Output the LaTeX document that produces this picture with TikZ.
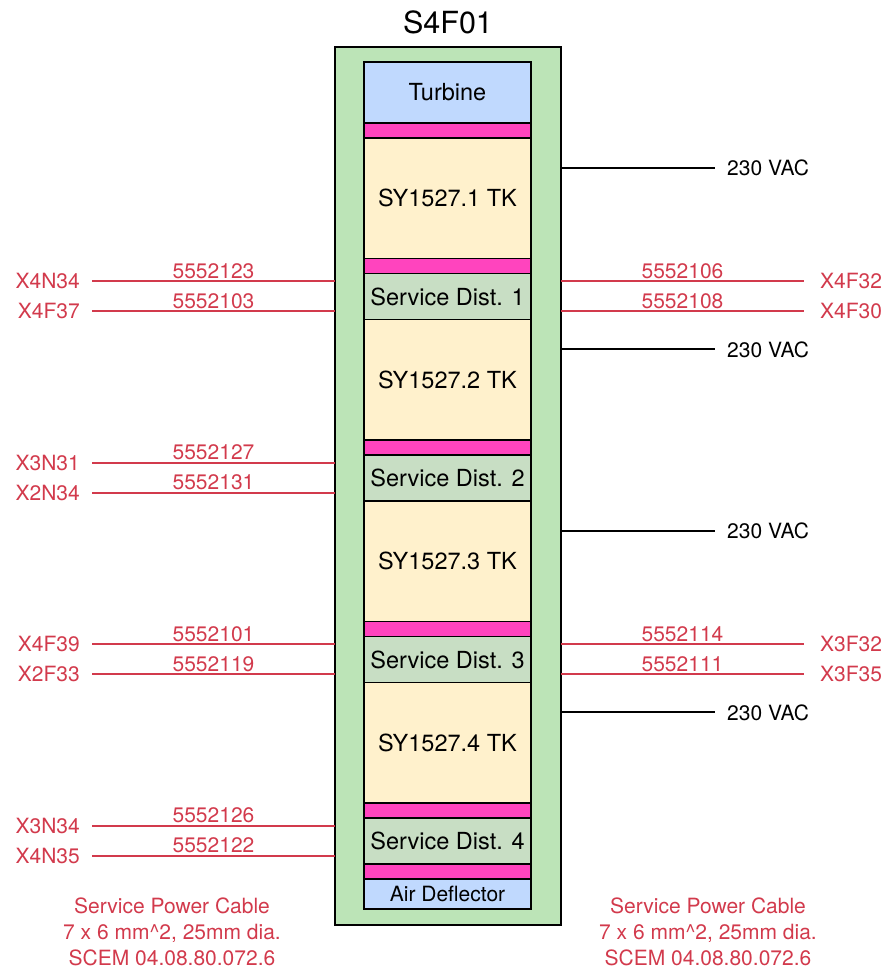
\documentclass[tikz,border=0pt]{standalone}
\usepackage{fontspec}
\setmainfont{TeX Gyre Heros}
\usetikzlibrary{positioning, calc}
\definecolor{RackGreen}{RGB}{188,228,183}
\definecolor{PartBlue}{RGB}{192,217,254}
\definecolor{SpacerPink}{RGB}{255,68,190}
\definecolor{CrateYellow}{RGB}{255,241,204}
\definecolor{DistGreen}{RGB}{200,222,196}
\definecolor{CableRed}{RGB}{210,58,76}

\begin{document}
\begin{tikzpicture}[
    x=1pt, y=1pt,
    node distance=0pt,
    part/.style={draw, line width=1.8pt, outer sep=0pt, inner sep=0pt,
                 minimum width=167, font=\fontsize{23.5}{28}\selectfont},
    spacer/.style={part, fill=SpacerPink, minimum height=15},
    crate/.style={part, fill=CrateYellow, minimum height=120.5},
    dist/.style={part, fill=DistGreen, minimum height=46},
    tag/.style={text=CableRed, font=\fontsize{21}{25}\selectfont, inner ysep=0pt, inner xsep=12pt},
    num/.style={text=CableRed, font=\fontsize{21}{25}\selectfont, inner sep=2pt},
    cable/.style={CableRed, line width=2pt},
    power/.style={black, line width=2pt},
    vlbl/.style={font=\fontsize{21}{25}\selectfont, inner ysep=0pt, inner xsep=12pt},
    note/.style={text=CableRed, align=center, font=\fontsize{21}{26}\selectfont},
]
\useasboundingbox (0,0) rectangle (883,971);

% ============ rack ============
\node[font=\fontsize{30.5}{36}\selectfont] (title) at (448,949) {S4F01};
\node[draw, line width=1.8pt, fill=RackGreen, minimum width=226, minimum height=878,
      outer sep=0pt] (rack) at (448,485) {};

% ============ stack of parts ============
\node[part, fill=PartBlue, minimum height=61] (turb) at (447.5,878.5) {Turbine};
\node[spacer, below=of turb] (g0) {};
\node[crate, below=of g0] (tk1) {SY1527.1 TK};
\node[spacer, below=of tk1] (g1) {};
\node[dist, below=of g1] (sd1) {Service Dist. 1};
\node[crate, below=of sd1] (tk2) {SY1527.2 TK};
\node[spacer, below=of tk2] (g2) {};
\node[dist, below=of g2] (sd2) {Service Dist. 2};
\node[crate, below=of sd2] (tk3) {SY1527.3 TK};
\node[spacer, below=of tk3] (g3) {};
\node[dist, below=of g3] (sd3) {Service Dist. 3};
\node[crate, below=of sd3] (tk4) {SY1527.4 TK};
\node[spacer, below=of tk4] (g4) {};
\node[dist, below=of g4] (sd4) {Service Dist. 4};
\node[spacer, below=of sd4] (g5) {};
\node[part, fill=PartBlue, minimum height=30, font=\fontsize{21}{25}\selectfont,
      below=of g5] (air) {Air Deflector};

% ============ 230 VAC feeds ============
\foreach \i in {1,...,4} {
    \node[vlbl, anchor=west] (v\i) at ($(tk\i.north)+(267.5,-30)$) {230 VAC};
    \draw[power] (v\i.west -| rack.east) -- (v\i.west);
}

% ============ service cables, left ============
\foreach \s/\ta/\na/\tb/\nb in {sd1/X4N34/5552123/X4F37/5552103,
                                sd2/X3N31/5552127/X2N34/5552131,
                                sd3/X4F39/5552101/X2F33/5552119,
                                sd4/X3N34/5552126/X4N35/5552122} {
    \node[tag, anchor=east] (\s-la) at ($(\s.center)+(-355.5,15)$) {\ta};
    \node[tag, anchor=east] (\s-lb) at ($(\s.center)+(-355.5,-15)$) {\tb};
    \draw[cable] (\s-la.east) -- (\s-la.east -| rack.west) node[num, midway, above] (\s-na) {\na};
    \draw[cable] (\s-lb.east) -- (\s-lb.east -| rack.west) node[num, midway, above] (\s-nb) {\nb};
}

% ============ service cables, right ============
\foreach \s/\ta/\na/\tb/\nb in {sd1/X4F32/5552106/X4F30/5552108,
                                sd3/X3F32/5552114/X3F35/5552111} {
    \node[tag, anchor=west, inner xsep=16pt] (\s-ra) at ($(\s.center)+(356.5,15)$) {\ta};
    \node[tag, anchor=west, inner xsep=16pt] (\s-rb) at ($(\s.center)+(356.5,-15)$) {\tb};
    \draw[cable] (\s-ra.west -| rack.east) -- (\s-ra.west) node[num, midway, above] (\s-ma) {\na};
    \draw[cable] (\s-rb.west -| rack.east) -- (\s-rb.west) node[num, midway, above] (\s-mb) {\nb};
}

% cable notes
\node[note] (noteL) at (172,39) {Service Power Cable\\7 x 6 mm\textasciicircum2, 25mm dia.\\SCEM 04.08.80.072.6};
\node[note] (noteR) at (708,39) {Service Power Cable\\7 x 6 mm\textasciicircum2, 25mm dia.\\SCEM 04.08.80.072.6};

\end{tikzpicture}
\end{document}
